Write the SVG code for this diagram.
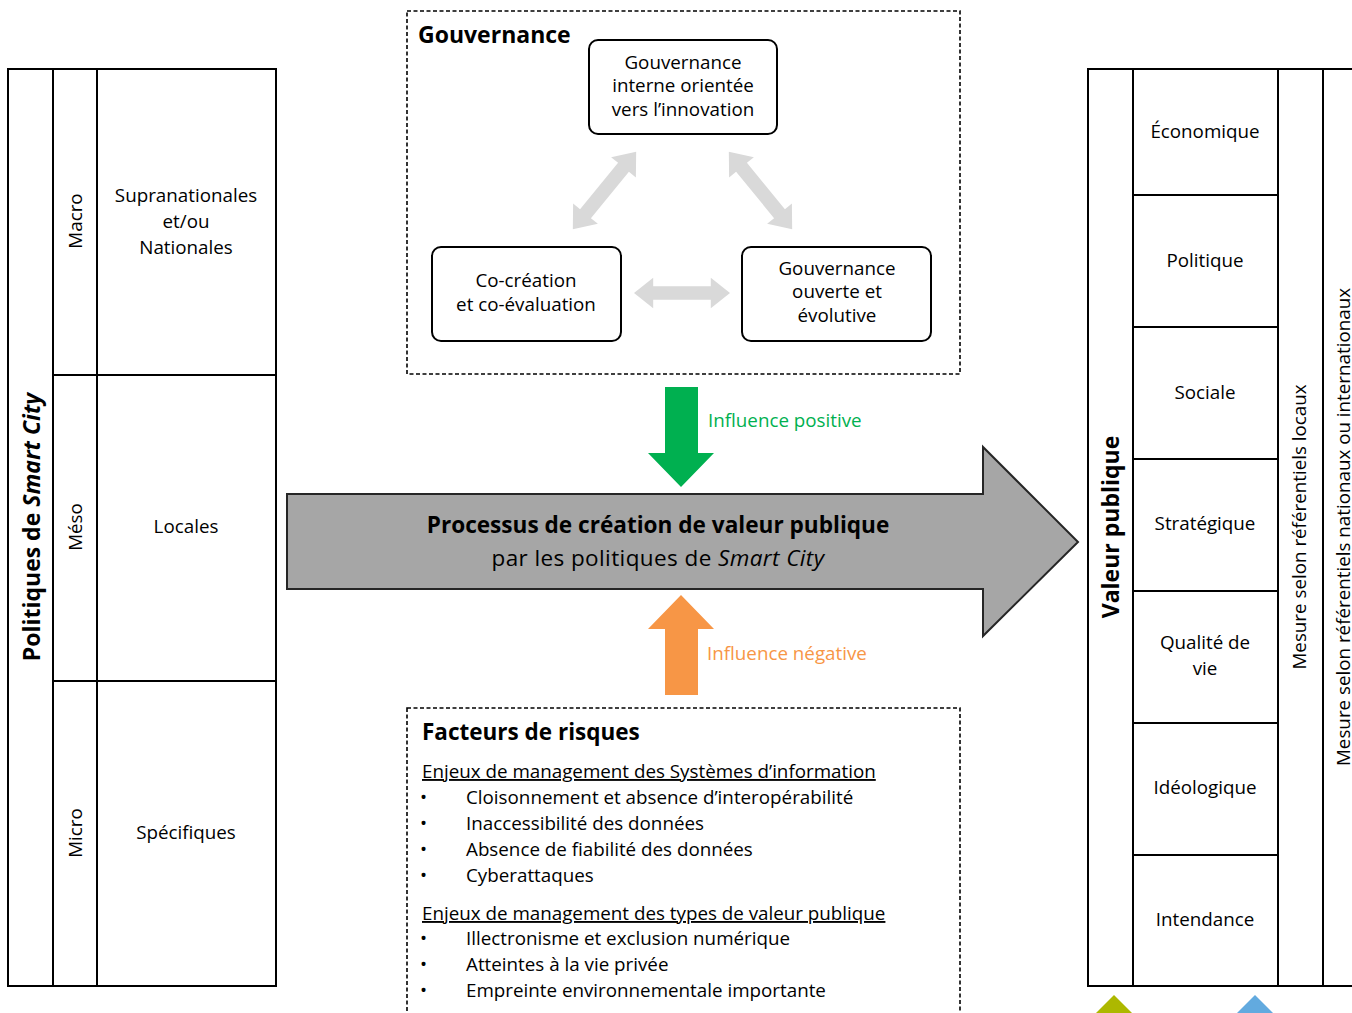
<svg xmlns="http://www.w3.org/2000/svg" width="1352" height="1013" viewBox="0 0 1352 1013">
<style>
text{font-family:"Open Sans","Noto Sans",sans-serif;fill:#000}
.t{font-size:18.8px}
.c{text-anchor:middle}
.b{font-weight:bold}
.ln{stroke:#000;stroke-width:2;fill:none}
.box{fill:#fff;stroke:#000;stroke-width:2}
.dash{fill:#fff;stroke:#000;stroke-width:1.6;stroke-dasharray:4 2.5}
.rb{fill:#fff;stroke:#000;stroke-width:2}
.ga{fill:#d9d9d9}
</style>
<defs>
<polygon id="dbl" points="-50,0 -30,-16 -30,-7 30,-7 30,-16 50,0 30,16 30,7 -30,7 -30,16"/>
</defs>
<rect width="1352" height="1013" fill="#fff"/>

<g id="politiques">
<rect class="box" x="8" y="69" width="268" height="917"/>
<path class="ln" d="M53 69V986M97 69V986M53 375H276M53 681H276"/>
<text class="b" font-size="23" text-anchor="middle" transform="translate(40 527) rotate(-90)">Politiques de <tspan font-style="italic">Smart City</tspan></text>
<text class="t c" transform="translate(82 221) rotate(-90)">Macro</text>
<text class="t c" transform="translate(82 527) rotate(-90)">Méso</text>
<text class="t c" transform="translate(82 833) rotate(-90)">Micro</text>
<text class="t c" x="186" y="202">Supranationales</text>
<text class="t c" x="186" y="228">et/ou</text>
<text class="t c" x="186" y="254">Nationales</text>
<text class="t c" x="186" y="533">Locales</text>
<text class="t c" x="186" y="839">Spécifiques</text>
</g>

<g id="gouvernance">
<rect class="dash" x="407" y="11" width="553" height="363"/>
<text class="b" font-size="23" x="418" y="43">Gouvernance</text>
</g>
<g id="gouv-interne">
<rect class="rb" x="589" y="40" width="188" height="94" rx="9"/>
<text class="t c" x="683" y="69">Gouvernance</text>
<text class="t c" x="683" y="92">interne orientée</text>
<text class="t c" x="683" y="116">vers l’innovation</text>
</g>
<g id="co-creation">
<rect class="rb" x="432" y="247" width="189" height="94" rx="9"/>
<text class="t c" x="526" y="287">Co-création</text>
<text class="t c" x="526" y="311">et co-évaluation</text>
</g>
<g id="gouv-ouverte">
<rect class="rb" x="742" y="247" width="189" height="94" rx="9"/>
<text class="t c" x="837" y="275">Gouvernance</text>
<text class="t c" x="837" y="298">ouverte et</text>
<text class="t c" x="837" y="322">évolutive</text>
</g>

<g id="processus">
<polygon points="287,494 983,494 983,447 1078,542 983,636 983,589 287,589" fill="#a6a6a6" stroke="#262626" stroke-width="2"/>
<text class="b c" font-size="22.6" x="658" y="533">Processus de création de valeur publique</text>
<text class="c" font-size="22.5" letter-spacing="0.4" x="658" y="566">par les politiques de <tspan font-style="italic">Smart City</tspan></text>
</g>

<g id="risques">
<rect class="dash" x="407" y="708" width="553" height="320"/>
<text class="b" font-size="22.5" x="422" y="740">Facteurs de risques</text>
<text class="t" x="422" y="778" text-decoration="underline">Enjeux de management des Systèmes d’information</text>
<g class="t">
<text x="420" y="804">•</text><text x="466" y="804">Cloisonnement et absence d’interopérabilité</text>
<text x="420" y="830">•</text><text x="466" y="830">Inaccessibilité des données</text>
<text x="420" y="856">•</text><text x="466" y="856">Absence de fiabilité des données</text>
<text x="420" y="882">•</text><text x="466" y="882">Cyberattaques</text>
</g>
<text class="t" x="422" y="920" text-decoration="underline">Enjeux de management des types de valeur publique</text>
<g class="t">
<text x="420" y="945">•</text><text x="466" y="945">Illectronisme et exclusion numérique</text>
<text x="420" y="971">•</text><text x="466" y="971">Atteintes à la vie privée</text>
<text x="420" y="997">•</text><text x="466" y="997">Empreinte environnementale importante</text>
</g>
</g>

<g id="valeur">
<rect class="box" x="1088" y="69" width="300" height="917"/>
<path class="ln" d="M1133 69V986M1278 69V986M1323 69V986M1133 195H1278M1133 327H1278M1133 459H1278M1133 591H1278M1133 723H1278M1133 855H1278"/>
<text class="b" font-size="23" text-anchor="middle" transform="translate(1119 527) rotate(-90)">Valeur publique</text>
<text class="t c" x="1205" y="138">Économique</text>
<text class="t c" x="1205" y="267">Politique</text>
<text class="t c" x="1205" y="399">Sociale</text>
<text class="t c" x="1205" y="530">Stratégique</text>
<text class="t c" x="1205" y="649">Qualité de</text>
<text class="t c" x="1205" y="675">vie</text>
<text class="t c" x="1205" y="794">Idéologique</text>
<text class="t c" x="1205" y="926">Intendance</text>
<text class="t c" transform="translate(1306 527) rotate(-90)">Mesure selon référentiels locaux</text>
<text class="t c" transform="translate(1350 527) rotate(-90)">Mesure selon référentiels nationaux ou internationaux</text>
<polygon points="1114,995 1096,1013 1132,1013" fill="#adb800"/>
<polygon points="1255,995 1237,1013 1273,1013" fill="#62aadf"/>
</g>

<g id="connecteurs">
<use href="#dbl" class="ga" transform="translate(604.5 190.5) rotate(-50.7)"/>
<use href="#dbl" class="ga" transform="translate(760.5 190.5) rotate(50.7)"/>
<use href="#dbl" class="ga" transform="translate(682 293) scale(0.96 0.95)"/>
<polygon points="665,387 698,387 698,453 714,453 681,487 648,453 665,453" fill="#00b050"/>
<text font-size="18.8" x="708" y="427" style="fill:#00b050">Influence positive</text>
<polygon points="681,595 714,629 698,629 698,695 665,695 665,629 648,629" fill="#f79646"/>
<text font-size="18.8" x="707" y="660" style="fill:#f79646">Influence négative</text>
</g>
</svg>
